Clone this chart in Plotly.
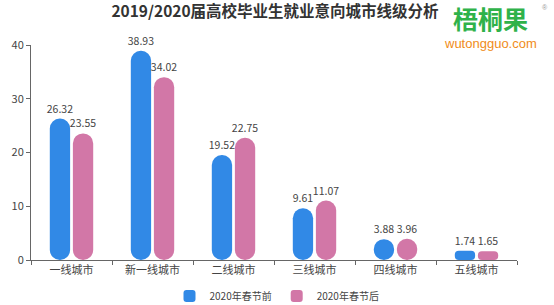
import plotly.graph_objects as go

categories = ["一线城市", "新一线城市", "二线城市", "三线城市", "四线城市", "五线城市"]
before = [26.32, 38.93, 19.52, 9.61, 3.88, 1.74]
after = [23.55, 34.02, 22.75, 11.07, 3.96, 1.65]
series_names = ["2020年春节前", "2020年春节后"]
colors = ["#3189e6", "#d277a7"]
y_max = 40

fig = go.Figure()
for name, vals, col in zip(series_names, [before, after], colors):
    # explicit base -> plotly rounds both ends of the bar (pill shape)
    fig.add_trace(go.Bar(
        x=categories, y=vals, base=[0] * len(vals), name=name,
        marker=dict(color=col, line=dict(width=0)),
        text=[f"{v:.2f}" for v in vals], textposition="outside",
        constraintext="none",
        textfont=dict(size=10.5, color="#444"), cliponaxis=False,
    ))

fig.update_layout(
    width=554, height=305,
    margin=dict(l=31, r=37, t=45, b=45, autoexpand=False),
    paper_bgcolor="white", plot_bgcolor="white",
    font=dict(family="Noto Sans CJK SC, sans-serif", color="#444", size=11),
    barmode="group", bargap=0.43, bargroupgap=0.12, barcornerradius=11,
    title=dict(text="<b>2019/2020届高校毕业生就业意向城市线级分析</b>",
               x=275 / 554, xanchor="center", y=1 - 12 / 305, yanchor="middle",
               font=dict(size=15.5, color="#333")),
    xaxis=dict(showline=True, linecolor="#666", linewidth=1, ticks="outside",
               tickson="boundaries", ticklen=4, tickcolor="#666",
               tickfont=dict(size=11, color="#444"), showgrid=False),
    yaxis=dict(range=[0, y_max], dtick=10, showline=True, linecolor="#666",
               linewidth=1, ticks="outside", ticklen=4, tickcolor="#666",
               tickfont=dict(size=11, color="#444"), showgrid=False,
               zeroline=False),
    legend=dict(orientation="h", x=0.5, xanchor="center", xref="container",
                y=(305 - 296) / 305, yanchor="middle", yref="container",
                font=dict(size=10, color="#444"), traceorder="normal"),
)

logo = [
    ("<b>梧桐果</b>", 490, 18, 25, "#2fb24a", "Noto Sans CJK SC, sans-serif"),
    ("wutongguo.com", 490, 43, 13, "#f08c1a", "Liberation Sans, Arial, sans-serif"),
    ("®", 545, 7, 7, "#999", "Liberation Sans, sans-serif"),
]
pw = 554 - 31 - 37
ph = 305 - 45 - 45
for txt, px, py, sz, col, fam in logo:
    fig.add_annotation(text=txt, xref="paper", yref="paper",
                       x=(px - 31) / pw, y=(305 - 45 - py) / ph,
                       xanchor="center", yanchor="middle", showarrow=False,
                       font=dict(size=sz, color=col, family=fam))
fig.write_html("out.html")
